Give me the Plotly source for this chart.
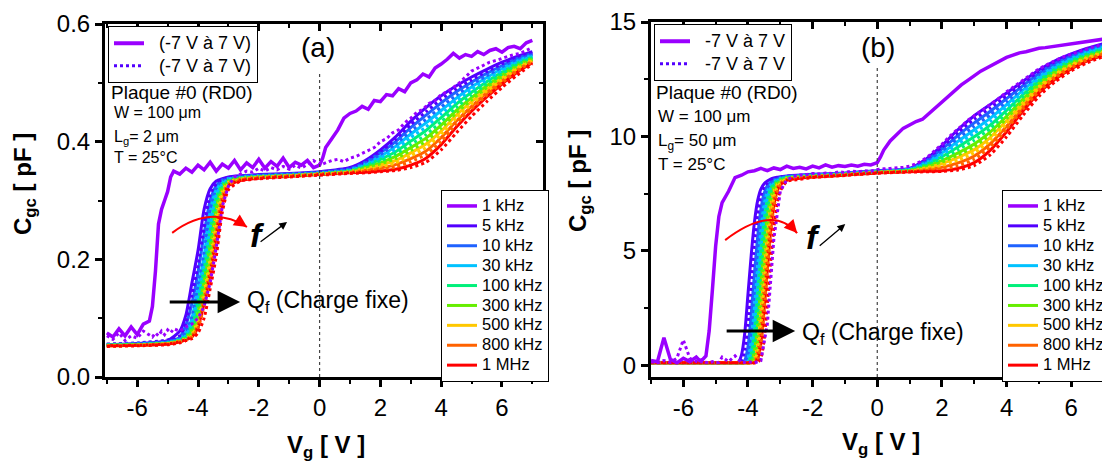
import plotly.graph_objects as go

# ---------------- data ----------------
FREQS = ["1 kHz", "5 kHz", "10 kHz", "30 kHz", "100 kHz", "300 kHz", "500 kHz", "800 kHz", "1 MHz"]
COLORS = ["#9A00FF", "#5200FF", "#1F62FF", "#00C2FF", "#00F07A", "#66EE00", "#FFC800", "#FF6200", "#FF0000"]

X_TICKS = [-6, -4, -2, 0, 2, 4, 6]
X_TICKTEXT = ["-6", "-4", "-2", "0", "2", "4", "6"]
X_MINOR = [-7, -5, -3, -1, 1, 3, 5, 7]
YA_TICKS = [0.0, 0.2, 0.4, 0.6]
YA_TICKTEXT = ["0.0", "0.2", "0.4", "0.6"]
YA_MINOR = [0.1, 0.3, 0.5]
YB_TICKS = [0, 5, 10, 15]
YB_TICKTEXT = ["0", "5", "10", "15"]
YB_MINOR = [2.5, 7.5, 12.5]

# 1 kHz sweeps (both panels share the same Vg samples)
X1 = [-7.0, -6.8, -6.6, -6.4, -6.2, -6.0, -5.8, -5.6,
      -5.5, -5.4, -5.3, -5.2, -5.1, -5.0, -4.9, -4.8,
      -4.6, -4.4, -4.2, -4.0, -3.8, -3.6, -3.4, -3.2, -3.0, -2.8, -2.6, -2.4,
      -2.2, -2.0, -1.8, -1.6, -1.4, -1.2, -1.0, -0.8, -0.6, -0.4, -0.2, 0.0,
      0.1,
      0.2, 0.4, 0.6, 0.8, 1.0, 1.2, 1.4, 1.6, 1.8, 2.0, 2.2, 2.4, 2.6, 2.8, 3.0,
      3.2, 3.4, 3.6, 3.8, 4.0, 4.2, 4.4, 4.6, 4.8, 5.0, 5.2, 5.4, 5.6, 5.8, 6.0,
      6.2, 6.4, 6.6, 6.8, 7.0]

A1_SOLID = [0.075, 0.068, 0.082, 0.07, 0.085, 0.072, 0.09, 0.095,
            0.12, 0.18, 0.26, 0.285, 0.30, 0.315, 0.34, 0.35,
            0.345, 0.355, 0.348, 0.36, 0.352, 0.365, 0.35, 0.362, 0.355, 0.368, 0.352, 0.364,
            0.356, 0.37, 0.355, 0.366, 0.358, 0.372, 0.356, 0.365, 0.36, 0.368, 0.356, 0.36,
            0.372,
            0.39, 0.405, 0.42, 0.44, 0.448, 0.452, 0.46, 0.455, 0.47, 0.468, 0.48, 0.478, 0.49, 0.485, 0.5,
            0.505, 0.515, 0.51, 0.525, 0.532, 0.54, 0.55, 0.542, 0.548, 0.545, 0.553, 0.548, 0.555, 0.558, 0.552,
            0.56, 0.562, 0.558, 0.568, 0.572]
A1_DOT = [0.07, 0.064, 0.075, 0.062, 0.07, 0.066, 0.078, 0.072,
          0.068, 0.075, 0.07, 0.078, 0.072, 0.08, 0.075, 0.082,
          0.078, 0.085, 0.09, 0.1, 0.12, 0.16, 0.22, 0.29, 0.325, 0.34, 0.345, 0.35,
          0.348, 0.355, 0.35, 0.356, 0.352, 0.358, 0.353, 0.36, 0.355, 0.362, 0.368, 0.36,
          0.362,
          0.365, 0.368, 0.37, 0.366, 0.372, 0.375, 0.38, 0.385, 0.39, 0.4, 0.405, 0.415, 0.42, 0.432, 0.44,
          0.45, 0.455, 0.465, 0.47, 0.48, 0.485, 0.492, 0.5, 0.51, 0.52, 0.525, 0.53, 0.535, 0.538, 0.542,
          0.545, 0.548, 0.55, 0.555, 0.56]
B1_SOLID = [0.2, 0.15, 1.2, 0.25, 0.1, 0.3, 0.15, 0.35,
            0.2, 0.25, 0.4, 1.5, 3.3, 5.2, 6.5, 7.1,
            7.6, 8.2, 8.3, 8.45, 8.5, 8.6, 8.5, 8.62, 8.55, 8.7, 8.6, 8.65,
            8.58, 8.7, 8.62, 8.75, 8.65, 8.72, 8.68, 8.75, 8.7, 8.78, 8.75, 8.85,
            9.1,
            9.4, 9.8, 10.1, 10.35, 10.5, 10.65, 10.75, 11.0, 11.3, 11.55, 11.8, 12.0, 12.25, 12.45, 12.65,
            12.85, 13.0, 13.15, 13.3, 13.45, 13.55, 13.65, 13.7, 13.78, 13.85, 13.88, 13.92, 13.95, 14.0, 14.02,
            14.08, 14.1, 14.15, 14.2, 14.25]
B1_DOT = [0.15, 0.1, 0.2, 0.12, 0.3, 1.1, 0.3, 0.15,
          0.1, 0.2, 0.12, 0.1, 0.15, 0.1, 0.12, 0.35,
          0.15, 0.4, 0.1, 0.15, 0.1, 0.2, 1.8, 5.5, 7.6, 8.1, 8.25, 8.3,
          8.32, 8.38, 8.35, 8.4, 8.38, 8.45, 8.42, 8.48, 8.45, 8.5, 8.48, 8.55,
          8.55,
          8.58, 8.6, 8.62, 8.65, 8.7, 8.8, 8.95, 9.15, 9.4, 9.65, 9.95, 10.2, 10.45, 10.7, 10.9,
          11.1, 11.3, 11.5, 11.7, 11.95, 12.15, 12.35, 12.55, 12.75, 12.95, 13.1, 13.25, 13.38, 13.5, 13.6,
          13.7, 13.8, 13.88, 13.95, 14.05]

# Panel (a): L_g = 2 um, 5 kHz ... 1 MHz
XA = [-7, -6, -5, -4.6, -4.4, -4.2, -4.0, -3.8, -3.6, -3.4, -3.2, -3.0, -2.6, -2, -1, 0, 1,
      1.5, 2, 2.5, 3, 3.5, 4, 4.5, 5, 5.5, 6, 6.5, 7]

A5_S = [0.055, 0.057, 0.062, 0.078, 0.105, 0.16, 0.215, 0.285, 0.32, 0.333, 0.337, 0.34, 0.342, 0.344, 0.346, 0.349, 0.356,
        0.368, 0.386, 0.408, 0.435, 0.458, 0.478, 0.495, 0.510, 0.523, 0.535, 0.545, 0.553]
A10_S = [0.055, 0.056, 0.06, 0.068, 0.088, 0.125, 0.178, 0.243, 0.30, 0.325, 0.335, 0.338, 0.341, 0.343, 0.345, 0.348, 0.354,
         0.365, 0.381, 0.400, 0.424, 0.445, 0.466, 0.485, 0.501, 0.516, 0.529, 0.541, 0.550]
A30_S = [0.054, 0.055, 0.058, 0.065, 0.075, 0.10, 0.15, 0.205, 0.28, 0.318, 0.332, 0.337, 0.34, 0.342, 0.344, 0.347, 0.352,
         0.362, 0.375, 0.392, 0.413, 0.432, 0.453, 0.474, 0.493, 0.509, 0.524, 0.537, 0.547]
A100_S = [0.054, 0.055, 0.058, 0.063, 0.07, 0.09, 0.13, 0.185, 0.25, 0.305, 0.327, 0.335, 0.339, 0.341, 0.343, 0.346, 0.351,
          0.359, 0.370, 0.383, 0.401, 0.419, 0.441, 0.464, 0.484, 0.502, 0.518, 0.533, 0.544]
A300_S = [0.054, 0.055, 0.057, 0.062, 0.067, 0.08, 0.11, 0.165, 0.225, 0.29, 0.322, 0.333, 0.338, 0.341, 0.343, 0.346, 0.35,
          0.356, 0.364, 0.375, 0.390, 0.406, 0.428, 0.453, 0.475, 0.495, 0.513, 0.529, 0.542]
A500_S = [0.053, 0.054, 0.057, 0.061, 0.065, 0.073, 0.098, 0.145, 0.2, 0.275, 0.315, 0.331, 0.337, 0.34, 0.342, 0.345, 0.349,
          0.354, 0.360, 0.368, 0.381, 0.396, 0.418, 0.445, 0.468, 0.489, 0.508, 0.526, 0.539]
A800_S = [0.053, 0.054, 0.056, 0.06, 0.064, 0.07, 0.09, 0.135, 0.185, 0.255, 0.308, 0.328, 0.336, 0.339, 0.342, 0.345, 0.348,
          0.351, 0.355, 0.361, 0.371, 0.384, 0.407, 0.435, 0.460, 0.483, 0.503, 0.522, 0.537]
A1M_S = [0.053, 0.054, 0.056, 0.06, 0.063, 0.068, 0.085, 0.125, 0.175, 0.24, 0.298, 0.325, 0.334, 0.338, 0.341, 0.344, 0.347,
         0.348, 0.350, 0.353, 0.360, 0.372, 0.395, 0.425, 0.452, 0.476, 0.498, 0.518, 0.534]

A5_D = [0.056, 0.058, 0.063, 0.07, 0.092, 0.138, 0.19, 0.255, 0.31, 0.328, 0.336, 0.339, 0.341, 0.343, 0.345, 0.348, 0.355,
        0.366, 0.383, 0.404, 0.429, 0.451, 0.472, 0.490, 0.505, 0.519, 0.532, 0.543, 0.551]
A10_D = [0.055, 0.057, 0.06, 0.065, 0.077, 0.103, 0.155, 0.212, 0.285, 0.32, 0.333, 0.337, 0.34, 0.342, 0.344, 0.347, 0.353,
         0.363, 0.378, 0.396, 0.418, 0.438, 0.459, 0.479, 0.497, 0.512, 0.526, 0.539, 0.548]
A30_D = [0.055, 0.056, 0.059, 0.063, 0.07, 0.092, 0.138, 0.19, 0.255, 0.31, 0.328, 0.336, 0.339, 0.341, 0.343, 0.346, 0.351,
         0.360, 0.372, 0.387, 0.407, 0.425, 0.447, 0.469, 0.488, 0.505, 0.521, 0.535, 0.545]
A100_D = [0.054, 0.055, 0.058, 0.062, 0.067, 0.08, 0.11, 0.168, 0.225, 0.293, 0.323, 0.333, 0.338, 0.34, 0.342, 0.345, 0.35,
          0.357, 0.367, 0.379, 0.395, 0.412, 0.434, 0.458, 0.479, 0.498, 0.515, 0.531, 0.543]
A300_D = [0.054, 0.055, 0.057, 0.061, 0.065, 0.075, 0.1, 0.15, 0.205, 0.28, 0.318, 0.332, 0.337, 0.34, 0.342, 0.345, 0.349,
          0.355, 0.362, 0.371, 0.385, 0.401, 0.423, 0.449, 0.471, 0.492, 0.510, 0.527, 0.540]
A500_D = [0.053, 0.054, 0.057, 0.06, 0.063, 0.07, 0.092, 0.138, 0.19, 0.255, 0.31, 0.328, 0.336, 0.339, 0.342, 0.345, 0.348,
          0.352, 0.357, 0.364, 0.376, 0.390, 0.412, 0.440, 0.464, 0.486, 0.505, 0.524, 0.538]
A800_D = [0.053, 0.054, 0.056, 0.06, 0.062, 0.068, 0.083, 0.122, 0.172, 0.235, 0.296, 0.324, 0.335, 0.338, 0.341, 0.344, 0.347,
          0.350, 0.353, 0.357, 0.366, 0.378, 0.400, 0.430, 0.456, 0.479, 0.500, 0.520, 0.536]
A1M_D = [0.052, 0.053, 0.055, 0.058, 0.062, 0.065, 0.075, 0.10, 0.15, 0.205, 0.28, 0.318, 0.333, 0.337, 0.34, 0.343, 0.346,
         0.347, 0.349, 0.351, 0.356, 0.365, 0.386, 0.415, 0.443, 0.468, 0.492, 0.513, 0.532]

# Panel (b): L_g = 50 um, 5 kHz ... 1 MHz
XB = [-7, -6, -5, -4.6,
      -4.4, -4.3, -4.2, -4.1, -4.0, -3.9, -3.8, -3.7, -3.6, -3.5, -3.4, -3.3, -3.2, -3.1, -3.0, -2.8,
      -2.5, -2, -1, 0,
      1, 1.5, 2, 2.5, 3, 3.5, 4, 4.5, 5, 5.5, 6, 6.5, 7]

B5_S = [0.12, 0.1, 0.1, 0.1,
        0.1, 0.12, 0.45, 1.4, 3.1, 4.8, 6.25, 7.2, 7.7, 7.93, 8.05, 8.13, 8.18, 8.21, 8.24, 8.27,
        8.3, 8.34, 8.4, 8.5,
        8.60, 9.00, 9.60, 10.30, 10.90, 11.40, 11.90, 12.40, 12.90, 13.30, 13.60, 13.85, 14.05]
B10_S = [0.1, 0.1, 0.1, 0.1,
         0.1, 0.1, 0.1, 0.2, 0.8, 2.2, 4.0, 5.6, 6.8, 7.5, 7.85, 8.0, 8.1, 8.15, 8.2, 8.25,
         8.28, 8.32, 8.38, 8.48,
         8.58, 8.92, 9.44, 10.05, 10.59, 11.10, 11.65, 12.21, 12.75, 13.18, 13.50, 13.77, 13.98]
B30_S = [0.1, 0.1, 0.1, 0.1,
         0.1, 0.1, 0.1, 0.11, 0.3, 1.0, 2.5, 4.3, 5.9, 7.0, 7.6, 7.88, 8.02, 8.1, 8.16, 8.23,
         8.26, 8.3, 8.37, 8.47,
         8.56, 8.84, 9.27, 9.79, 10.29, 10.80, 11.39, 12.01, 12.60, 13.06, 13.41, 13.69, 13.90]
B100_S = [0.1, 0.1, 0.1, 0.1,
          0.1, 0.1, 0.1, 0.1, 0.12, 0.45, 1.4, 3.1, 4.8, 6.25, 7.2, 7.7, 7.93, 8.05, 8.13, 8.21,
          8.24, 8.28, 8.35, 8.45,
          8.53, 8.76, 9.11, 9.54, 9.98, 10.50, 11.14, 11.82, 12.45, 12.94, 13.31, 13.60, 13.83]
B300_S = [0.1, 0.1, 0.1, 0.1,
          0.1, 0.1, 0.1, 0.1, 0.1, 0.17, 0.65, 1.75, 3.6, 5.3, 6.6, 7.4, 7.8, 7.97, 8.08, 8.19,
          8.22, 8.27, 8.34, 8.44,
          8.51, 8.68, 8.94, 9.28, 9.67, 10.20, 10.88, 11.62, 12.30, 12.82, 13.21, 13.52, 13.75]
B500_S = [0.1, 0.1, 0.1, 0.1,
          0.1, 0.1, 0.1, 0.1, 0.1, 0.11, 0.3, 1.0, 2.5, 4.3, 5.9, 7.0, 7.6, 7.88, 8.02, 8.16,
          8.2, 8.25, 8.33, 8.43,
          8.49, 8.62, 8.81, 9.08, 9.42, 9.96, 10.68, 11.46, 12.18, 12.72, 13.13, 13.45, 13.69]
B800_S = [0.1, 0.1, 0.1, 0.1,
          0.1, 0.1, 0.1, 0.1, 0.1, 0.1, 0.15, 0.6, 1.7, 3.45, 5.1, 6.45, 7.3, 7.75, 7.95, 8.13,
          8.18, 8.24, 8.32, 8.42,
          8.47, 8.54, 8.65, 8.84, 9.14, 9.68, 10.44, 11.28, 12.04, 12.61, 13.04, 13.38, 13.62]
B1M_S = [0.1, 0.1, 0.1, 0.1,
         0.1, 0.1, 0.1, 0.1, 0.1, 0.1, 0.11, 0.3, 1.0, 2.5, 4.3, 5.9, 7.0, 7.6, 7.88, 8.08,
         8.15, 8.22, 8.3, 8.4,
         8.45, 8.47, 8.50, 8.60, 8.85, 9.40, 10.20, 11.10, 11.90, 12.50, 12.95, 13.30, 13.55]

B5_D = [0.1, 0.1, 0.1, 0.1,
        0.1, 0.1, 0.17, 0.65, 1.75, 3.6, 5.3, 6.6, 7.4, 7.8, 7.97, 8.08, 8.14, 8.19, 8.22, 8.26,
        8.29, 8.33, 8.39, 8.49,
        8.59, 8.96, 9.52, 10.18, 10.75, 11.25, 11.78, 12.30, 12.83, 13.24, 13.55, 13.81, 14.01]
B10_D = [0.1, 0.1, 0.1, 0.1,
         0.1, 0.1, 0.1, 0.13, 0.5, 1.5, 3.3, 5.0, 6.35, 7.25, 7.73, 7.95, 8.06, 8.13, 8.18, 8.24,
         8.27, 8.31, 8.37, 8.47,
         8.57, 8.88, 9.36, 9.92, 10.44, 10.95, 11.52, 12.11, 12.68, 13.12, 13.46, 13.73, 13.94]
B30_D = [0.1, 0.1, 0.1, 0.1,
         0.1, 0.1, 0.1, 0.1, 0.15, 0.6, 1.7, 3.45, 5.1, 6.45, 7.3, 7.75, 7.95, 8.06, 8.14, 8.21,
         8.25, 8.29, 8.36, 8.46,
         8.55, 8.80, 9.19, 9.67, 10.14, 10.65, 11.27, 11.92, 12.53, 13.00, 13.36, 13.65, 13.87]
B100_D = [0.1, 0.1, 0.1, 0.1,
          0.1, 0.1, 0.1, 0.1, 0.1, 0.2, 0.8, 2.2, 4.0, 5.6, 6.8, 7.5, 7.85, 8.0, 8.1, 8.2,
          8.23, 8.27, 8.34, 8.44,
          8.52, 8.72, 9.03, 9.41, 9.83, 10.35, 11.01, 11.72, 12.38, 12.88, 13.26, 13.56, 13.79]
B300_D = [0.1, 0.1, 0.1, 0.1,
          0.1, 0.1, 0.1, 0.1, 0.1, 0.11, 0.35, 1.1, 2.7, 4.5, 6.0, 7.05, 7.62, 7.9, 8.03, 8.16,
          8.21, 8.26, 8.33, 8.43,
          8.50, 8.65, 8.88, 9.18, 9.55, 10.08, 10.78, 11.54, 12.24, 12.77, 13.17, 13.49, 13.72]
B500_D = [0.1, 0.1, 0.1, 0.1,
          0.1, 0.1, 0.1, 0.1, 0.1, 0.1, 0.15, 0.6, 1.7, 3.45, 5.1, 6.45, 7.3, 7.75, 7.95, 8.13,
          8.18, 8.24, 8.32, 8.42,
          8.48, 8.58, 8.73, 8.96, 9.28, 9.82, 10.56, 11.37, 12.11, 12.67, 13.09, 13.42, 13.66]
B800_D = [0.1, 0.1, 0.1, 0.1,
          0.1, 0.1, 0.1, 0.1, 0.1, 0.1, 0.1, 0.25, 0.9, 2.35, 4.15, 5.75, 6.9, 7.55, 7.86, 8.08,
          8.15, 8.22, 8.31, 8.41,
          8.46, 8.51, 8.58, 8.72, 9.00, 9.54, 10.32, 11.19, 11.97, 12.56, 13.00, 13.34, 13.59]
B1M_D = [0.1, 0.1, 0.1, 0.1,
         0.1, 0.1, 0.1, 0.1, 0.1, 0.1, 0.1, 0.12, 0.3, 1.1, 2.7, 4.5, 6.0, 7.05, 7.62, 8.03,
         8.1, 8.2, 8.29, 8.39,
         8.44, 8.45, 8.47, 8.53, 8.72, 9.20, 9.98, 10.90, 11.75, 12.38, 12.86, 13.22, 13.49]

A_SOLID = [A5_S, A10_S, A30_S, A100_S, A300_S, A500_S, A800_S, A1M_S]
A_DOT = [A5_D, A10_D, A30_D, A100_D, A300_D, A500_D, A800_D, A1M_D]
B_SOLID = [B5_S, B10_S, B30_S, B100_S, B300_S, B500_S, B800_S, B1M_S]
B_DOT = [B5_D, B10_D, B30_D, B100_D, B300_D, B500_D, B800_D, B1M_D]

SWEEP_LABEL_A = "(-7 V à 7 V)"
SWEEP_LABEL_B = "-7 V à 7 V"

# ---------------- figure ----------------
FONT = "Liberation Sans, Arial, sans-serif"
NB = "\u00a0"
W, H = 1102, 459      # page body adds an 8 px offset; figure fills the rest of the 1110x467 window
OFF = 8

fig = go.Figure()


def px(v):
    return (v - OFF) / W


def py(v):
    return 1 - (v - OFF) / H


def freq_name(name):
    return '<span style="font-size:16.5px">%s</span>' % name


def sweep_name(name):
    return '<span style="font-size:18px">%s%s</span>' % (NB * 2, name)


panels = [
    dict(xa="x", ya="y", X=XA, S=A_SOLID, D=A_DOT, s1=A1_SOLID, d1=A1_DOT,
         sweep="legend", freq="legend2", label=SWEEP_LABEL_A),
    dict(xa="x2", ya="y2", X=XB, S=B_SOLID, D=B_DOT, s1=B1_SOLID, d1=B1_DOT,
         sweep="legend3", freq="legend4", label=SWEEP_LABEL_B),
]

for p in panels:
    for i, ys in enumerate(p["S"]):
        fig.add_trace(go.Scatter(
            x=p["X"], y=ys, mode="lines", name=freq_name(FREQS[i + 1]),
            line=dict(color=COLORS[i + 1], width=3, shape="spline", smoothing=0.6),
            xaxis=p["xa"], yaxis=p["ya"], legend=p["freq"], legendrank=i + 2,
            hoverinfo="skip"))
    for i, ys in enumerate(p["D"]):
        fig.add_trace(go.Scatter(
            x=p["X"], y=ys, mode="lines", showlegend=False,
            line=dict(color=COLORS[i + 1], width=3, dash="3px,3px", shape="spline", smoothing=0.6),
            xaxis=p["xa"], yaxis=p["ya"], hoverinfo="skip"))
    fig.add_trace(go.Scatter(
        x=X1, y=p["d1"], mode="lines", showlegend=False,
        line=dict(color=COLORS[0], width=3, dash="3px,3px"),
        xaxis=p["xa"], yaxis=p["ya"], hoverinfo="skip"))
    fig.add_trace(go.Scatter(
        x=X1, y=p["s1"], mode="lines", name=freq_name(FREQS[0]),
        line=dict(color=COLORS[0], width=3.5),
        xaxis=p["xa"], yaxis=p["ya"], legend=p["freq"], legendrank=1,
        hoverinfo="skip"))
    fig.add_trace(go.Scatter(
        x=[None], y=[None], mode="lines", name=sweep_name(p["label"]),
        line=dict(color=COLORS[0], width=4),
        xaxis=p["xa"], yaxis=p["ya"], legend=p["sweep"], legendrank=1))
    fig.add_trace(go.Scatter(
        x=[None], y=[None], mode="lines", name=sweep_name(p["label"]),
        line=dict(color=COLORS[1], width=3, dash="3px,3px"),
        xaxis=p["xa"], yaxis=p["ya"], legend=p["sweep"], legendrank=2))

# helper traces so the mirror (top / right) axes are drawn
for xa, ya in [("x3", "y"), ("x", "y3"), ("x4", "y2"), ("x2", "y4")]:
    fig.add_trace(go.Scatter(x=[None], y=[None], xaxis=xa, yaxis=ya,
                             showlegend=False, hoverinfo="skip"))

AX = dict(showline=True, linewidth=3, linecolor="black", showgrid=False, zeroline=False,
          ticks="outside", ticklen=7, tickwidth=2.5, tickcolor="black",
          tickfont=dict(size=24, family=FONT, color="black"))
MIRROR = dict(showline=True, linewidth=3, linecolor="black", showgrid=False, zeroline=False,
              ticks="inside", ticklen=7, tickwidth=2.5, tickcolor="black", showticklabels=False)

XA_RANGE = [-7.06, 7.35]
XB_RANGE = [-7.0, 7.2]
YA_RANGE = [0, 0.6]
YB_RANGE = [-0.52, 15]
DOM_XA = [px(105), px(543)]
DOM_XB = [px(651), 1.0]
DOM_YA = [py(377), py(24)]
DOM_YB = [py(377), py(22)]

fig.update_layout(
    width=W, height=H, margin=dict(l=0, r=0, t=0, b=0, autoexpand=False),
    plot_bgcolor="white", paper_bgcolor="white",
    font=dict(family=FONT, color="black"),
    xaxis=dict(AX, domain=DOM_XA, range=XA_RANGE, anchor="y",
               tickvals=X_TICKS, ticktext=X_TICKTEXT,
               minor=dict(tickvals=X_MINOR, ticks="outside", ticklen=4, tickwidth=2)),
    yaxis=dict(AX, domain=DOM_YA, range=YA_RANGE, anchor="x",
               tickvals=YA_TICKS, ticktext=YA_TICKTEXT,
               minor=dict(tickvals=YA_MINOR, ticks="outside", ticklen=4, tickwidth=2)),
    xaxis3=dict(MIRROR, overlaying="x", side="top", anchor="y", range=XA_RANGE,
                tickvals=X_TICKS, minor=dict(tickvals=X_MINOR, ticks="inside", ticklen=4, tickwidth=2)),
    yaxis3=dict(MIRROR, overlaying="y", side="right", anchor="x", range=YA_RANGE,
                tickvals=YA_TICKS, minor=dict(tickvals=YA_MINOR, ticks="inside", ticklen=4, tickwidth=2)),
    xaxis2=dict(AX, domain=DOM_XB, range=XB_RANGE, anchor="y2",
                tickvals=X_TICKS, ticktext=X_TICKTEXT,
                minor=dict(tickvals=X_MINOR, ticks="outside", ticklen=4, tickwidth=2)),
    yaxis2=dict(AX, domain=DOM_YB, range=YB_RANGE, anchor="x2",
                tickvals=YB_TICKS, ticktext=YB_TICKTEXT,
                minor=dict(tickvals=YB_MINOR, ticks="outside", ticklen=4, tickwidth=2)),
    xaxis4=dict(MIRROR, overlaying="x2", side="top", anchor="y2", range=XB_RANGE,
                tickvals=X_TICKS, minor=dict(tickvals=X_MINOR, ticks="inside", ticklen=4, tickwidth=2)),
    yaxis4=dict(MIRROR, overlaying="y2", side="right", anchor="x2", range=YB_RANGE,
                tickvals=YB_TICKS, minor=dict(tickvals=YB_MINOR, ticks="inside", ticklen=4, tickwidth=2)),
)

LEG_SWEEP = dict(xanchor="left", yanchor="top", bgcolor="white", bordercolor="black", borderwidth=1,
                 font=dict(size=15, family=FONT, color="black"), itemwidth=30, traceorder="normal")
LEG_FREQ = dict(xanchor="left", yanchor="top", bgcolor="white", bordercolor="black", borderwidth=1,
                font=dict(size=13, family=FONT, color="black"), itemwidth=30, traceorder="normal")
fig.update_layout(
    legend=dict(LEG_SWEEP, x=px(108), y=py(26)),
    legend2=dict(LEG_FREQ, x=px(441), y=py(190)),
    legend3=dict(LEG_SWEEP, x=px(654), y=py(24)),
    legend4=dict(LEG_FREQ, x=px(1002), y=py(190)),
)

# vertical dotted line at Vg = 0
fig.add_shape(type="line", xref="x", yref="y", x0=0, x1=0, y0=0, y1=0.517,
              line=dict(color="#444", width=1.2, dash="dot"))
fig.add_shape(type="line", xref="x2", yref="y2", x0=0, x1=0, y0=-0.52, y1=13.0,
              line=dict(color="#444", width=1.2, dash="dot"))

# red curved arrows (frequency shift)
fig.add_shape(type="path", xref="x", yref="y", path="M -4.85,0.245 Q -3.585,0.294 -2.39,0.255",
              line=dict(color="red", width=2))
fig.add_shape(type="path", xref="x2", yref="y2", path="M -4.706,5.466 Q -3.22,7.06 -2.48,5.772",
              line=dict(color="red", width=2))

ann = []
ann.append(dict(xref="x", yref="y", x=-2.385, y=0.255, ax=-10, ay=-6.5, showarrow=True,
                arrowhead=2, arrowsize=1.3, arrowwidth=2, arrowcolor="red", text=""))
ann.append(dict(xref="x2", yref="y2", x=-2.477, y=5.772, ax=-8, ay=-9, showarrow=True,
                arrowhead=2, arrowsize=1.3, arrowwidth=2, arrowcolor="red", text=""))
for xr, yr, fx, fy, tx, ty, hx, hy in [("x", "y", -2.056, 0.2415, -1.99, 0.228, -1.069, 0.2636),
                                        ("x2", "y2", -1.98, 5.6, -1.827, 5.16, -0.99, 6.165)]:
    ann.append(dict(xref=xr, yref=yr, x=fx, y=fy, text="<b><i>f</i></b>", showarrow=False,
                    font=dict(size=34, family=FONT, color="black")))
    ann.append(dict(xref=xr, yref=yr, axref=xr, ayref=yr, x=hx, y=hy, ax=tx, ay=ty, text="",
                    showarrow=True, arrowhead=2, arrowsize=1.2, arrowwidth=1.3, arrowcolor="black"))
for xr, yr, tx, hx, yv, qx, qy in [("x", "y", -4.98, -2.615, 0.1276, -2.45, 0.1276),
                                    ("x2", "y2", -4.706, -2.539, 1.487, -2.384, 1.40)]:
    ann.append(dict(xref=xr, yref=yr, axref=xr, ayref=yr, x=hx, y=yv, ax=tx, ay=yv, text="",
                    showarrow=True, arrowhead=2, arrowsize=1.5, arrowwidth=3, arrowcolor="black"))
    ann.append(dict(xref=xr, yref=yr, x=qx, y=qy, text="Q<sub>f</sub> (Charge fixe)", showarrow=False,
                    xanchor="left", yanchor="middle", font=dict(size=23, family=FONT, color="black")))


def ptext(x, y, text, size, anchor="left", angle=0, bold=False):
    return dict(xref="paper", yref="paper", x=px(x), y=py(y),
                text=("<b>%s</b>" % text) if bold else text, showarrow=False,
                xanchor=anchor, yanchor="middle", textangle=angle,
                font=dict(size=size, family=FONT, color="black"))


ann += [
    ptext(318, 47, "(a)", 28, "center"),
    ptext(878, 47, "(b)", 28, "center"),
    ptext(109, 92, "Plaque #0 (RD0)", 19),
    ptext(112, 113, "W = 100 μm", 16),
    ptext(112, 137, "L<sub>g</sub>= 2 μm", 16),
    ptext(112, 157, "T = 25°C", 16),
    ptext(654, 93, "Plaque #0 (RD0)", 19),
    ptext(656, 117, "W = 100 μm", 17),
    ptext(656, 142, "L<sub>g</sub>= 50 μm", 17),
    ptext(656, 164, "T = 25°C", 17),
    ptext(24, 184, "C<sub>gc</sub> [ pF ]", 24, "center", -90, True),
    ptext(579, 181, "C<sub>gc</sub> [ pF ]", 24, "center", -90, True),
    ptext(326, 446, "V<sub>g</sub> [ V ]", 24, "center", 0, True),
    ptext(881, 443, "V<sub>g</sub> [ V ]", 24, "center", 0, True),
]
fig.update_layout(annotations=ann)

fig.write_html("out.html")
